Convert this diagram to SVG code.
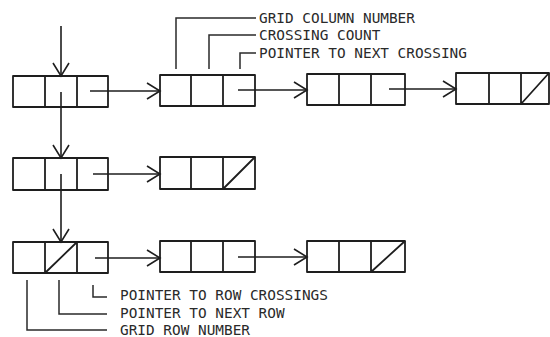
<svg xmlns="http://www.w3.org/2000/svg" width="550" height="337" viewBox="0 0 550 337">
<defs>
<style>
.b{fill:none;stroke:#1e1e1e;stroke-width:1.8;stroke-linejoin:round}
.c{fill:none;stroke:#1e1e1e;stroke-width:1.6}
.l{fill:none;stroke:#2a2a2a;stroke-width:1.5}
.t{font-family:"DejaVu Sans Mono","Liberation Mono",monospace;font-size:14.4px;fill:#2a2a2a}
</style>
<marker id="ah" markerUnits="userSpaceOnUse" markerWidth="20" markerHeight="20" viewBox="-16 -10 18 20" refX="0" refY="0" orient="auto">
<path d="M-13,-8 L0,0 L-13,8" fill="none" stroke="#1e1e1e" stroke-width="1.6"/>
</marker>
</defs>
<rect width="550" height="337" fill="#ffffff"/>

<g id="row1-head">
<rect class="b" x="13" y="76" width="95" height="31"/>
<path class="b" d="M45,76V107M77,76V107"/>
</g>
<g id="row1-cross1">
<rect class="b" x="160" y="75" width="95" height="31"/>
<path class="b" d="M191,75V106M223,75V106"/>
</g>
<g id="row1-cross2">
<rect class="b" x="307" y="74" width="98" height="31"/>
<path class="b" d="M339,74V105M371,74V105"/>
</g>
<g id="row1-cross3">
<rect class="b" x="456" y="73" width="93" height="31"/>
<path class="b" d="M489,73V104M521,73V104M521,104L549,73"/>
</g>

<g id="row2-head">
<rect class="b" x="13" y="158" width="95" height="32"/>
<path class="b" d="M45,158V190M77,158V190"/>
</g>
<g id="row2-cross1">
<rect class="b" x="160" y="157" width="95" height="32"/>
<path class="b" d="M191,157V189M223,157V189M223,189L255,157"/>
</g>

<g id="row3-head">
<rect class="b" x="13" y="242" width="95" height="31"/>
<path class="b" d="M45,242V273M77,242V273M45,273L77,242"/>
</g>
<g id="row3-cross1">
<rect class="b" x="160" y="241" width="95" height="31"/>
<path class="b" d="M191,241V272M223,241V272"/>
</g>
<g id="row3-cross2">
<rect class="b" x="307" y="241" width="98" height="31"/>
<path class="b" d="M339,241V272M371,241V272M371,272L405,241"/>
</g>

<g id="connectors">
<path class="c" d="M61,26V76" marker-end="url(#ah)"/>
<path class="c" d="M61,92V158" marker-end="url(#ah)"/>
<path class="c" d="M61,174V242" marker-end="url(#ah)"/>
<path class="c" d="M90,91H160" marker-end="url(#ah)"/>
<path class="c" d="M238,90H307" marker-end="url(#ah)"/>
<path class="c" d="M389,89H456" marker-end="url(#ah)"/>
<path class="c" d="M93,174H160" marker-end="url(#ah)"/>
<path class="c" d="M95,258H160" marker-end="url(#ah)"/>
<path class="c" d="M238,257H307" marker-end="url(#ah)"/>
</g>

<g id="labels">
<path class="l" d="M176,69V18H256"/>
<path class="l" d="M209,69V35H256"/>
<path class="l" d="M240,69V53H256"/>
<text class="t" x="259" y="23">GRID COLUMN NUMBER</text>
<text class="t" x="259" y="40">CROSSING COUNT</text>
<text class="t" x="259" y="58">POINTER TO NEXT CROSSING</text>
<path class="l" d="M93,285V297H107"/>
<path class="l" d="M59,280V314H107"/>
<path class="l" d="M27,280V330H107"/>
<text class="t" x="120" y="300">POINTER TO ROW CROSSINGS</text>
<text class="t" x="120" y="317.5">POINTER TO NEXT ROW</text>
<text class="t" x="120" y="334.5">GRID ROW NUMBER</text>
</g>
</svg>
